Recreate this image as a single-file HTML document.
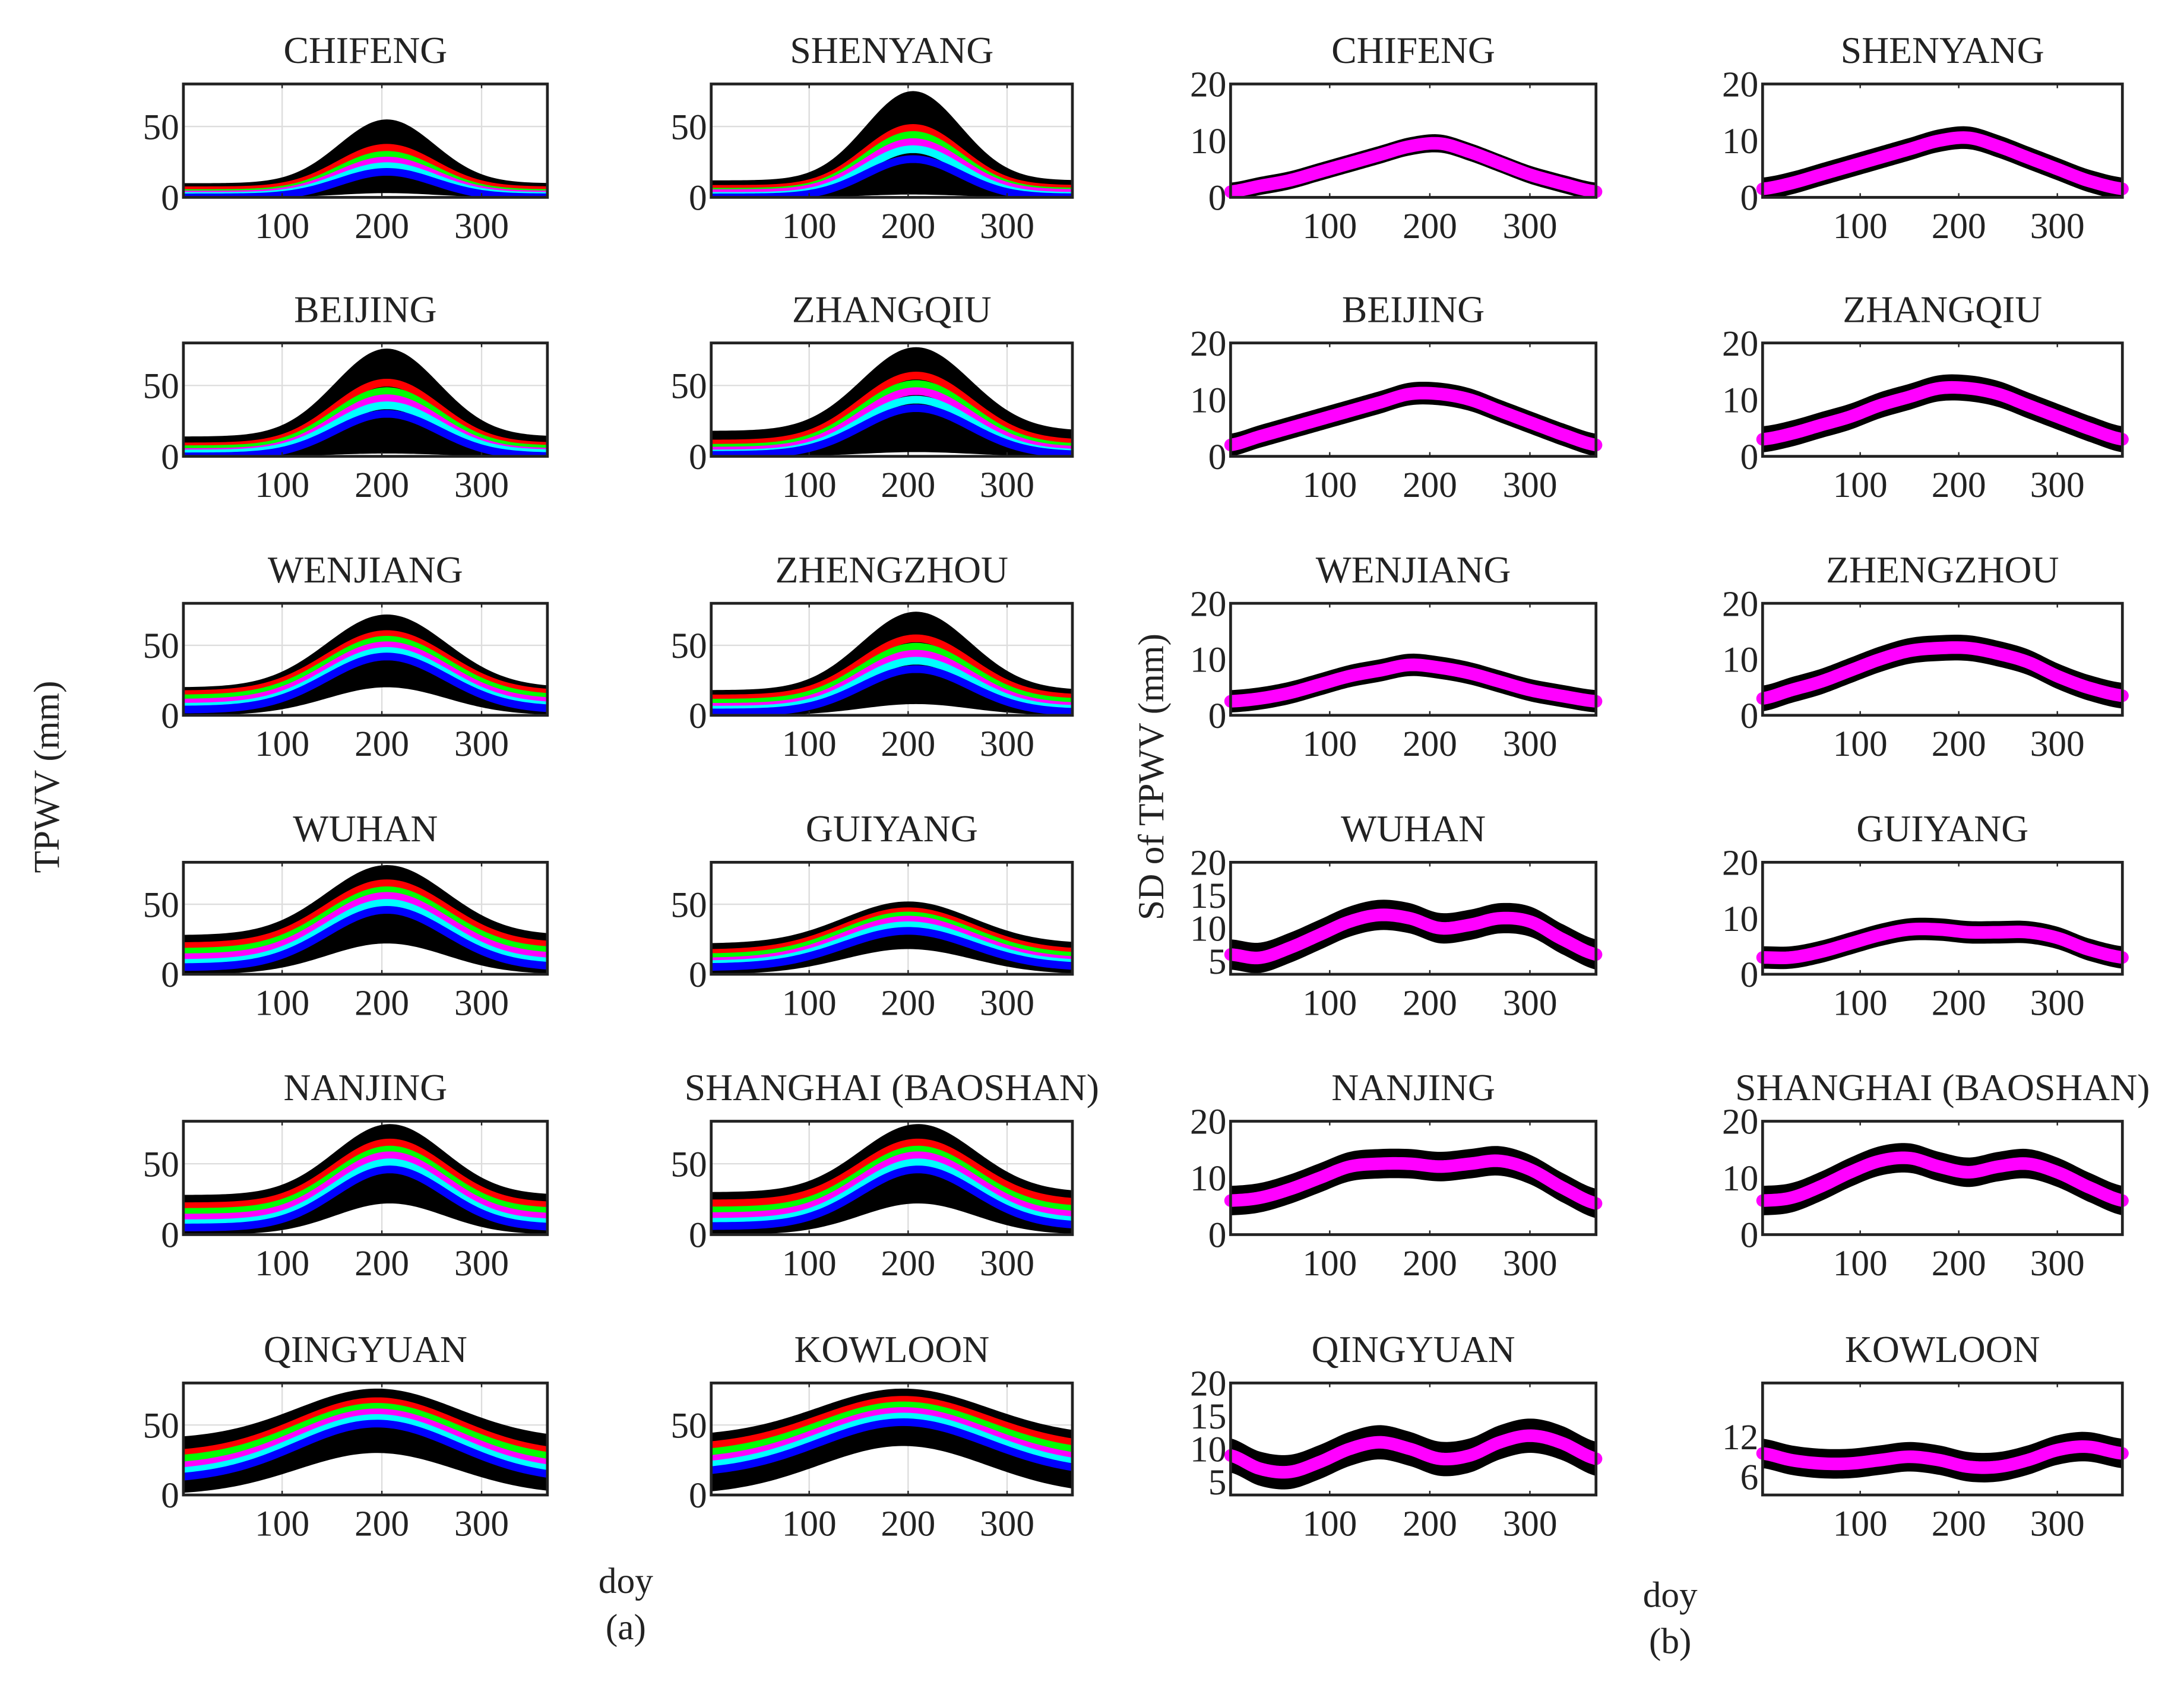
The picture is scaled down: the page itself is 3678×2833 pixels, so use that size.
<!DOCTYPE html>
<html><head><meta charset="utf-8">
<style>
html,body{margin:0;padding:0;background:#fff;}
svg{display:block;}
text{font-family:"Liberation Serif",serif;fill:#222;}
</style></head>
<body>
<svg id="fig" width="3678" height="2833" viewBox="0 0 1560 1201.6" xmlns="http://www.w3.org/2000/svg">
<rect x="0" y="0" width="1560" height="1202" fill="#fff"/>
<text x="0" y="0" font-size="26" text-anchor="middle" transform="translate(42,555) rotate(-90)">TPWV (mm)</text>
<text x="0" y="0" font-size="26" text-anchor="middle" transform="translate(831,555) rotate(-90)">SD of TPWV (mm)</text>
<text x="447" y="1138" font-size="26" text-anchor="middle">doy</text>
<text x="447" y="1171" font-size="26" text-anchor="middle">(a)</text>
<text x="1193" y="1148" font-size="26" text-anchor="middle">doy</text>
<text x="1193" y="1181" font-size="26" text-anchor="middle">(b)</text>
</svg>
<script>
// ---------- data ----------
const stations = ["CHIFENG","SHENYANG","BEIJING","ZHANGQIU","WENJIANG","ZHENGZHOU","WUHAN","GUIYANG","NANJING","SHANGHAI (BAOSHAN)","QINGYUAN","KOWLOON"];
const xTicks = [100,200,300];
// (a) percentile curves: red, green, magenta, cyan, blue — winter base and summer peak (mm)
const aPeakRed     = [35,49,52,57,58,55,65,45,65,65,67,68];
const aPeakGreen   = [30,44,46,51,54,49,60,42,60,60,63,64];
const aPeakMagenta = [26,39,41,46,50,44,56,39,56,56,59,60];
const aPeakCyan    = [22,34,36,40,46,39,51,35,51,51,55,56];
const aPeakBlue    = [18,27,30,34,42,33,46,31,46,46,51,52];
const aBaseRed     = [5,6,7,9,15,12,20,15,20,22,28,33];
const aBaseGreen   = [3,4,5,6,12,9,16,12,16,17,24,28];
const aBaseMagenta = [2,3,3,4,9,6,12,9,12,13,19,23];
const aBaseCyan    = [1,1,2,2,6,4,8,7,8,9,15,19];
const aBaseBlue    = [0,0,0,1,4,2,5,5,5,6,11,15];
const aPeakDoy     = [205,205,205,208,205,208,205,200,208,210,195,195];
const aWidthDays   = [48,48,52,55,60,55,60,65,55,58,80,85];
const aScatterTop  = [55,75,76,77,72,74,78,52,78,78,76,76];
const aScatterTopBase = [10,12,14,18,20,18,28,22,28,30,40,42];
const aScatterBot  = [3,2,2,3,20,8,22,18,22,22,30,35];
const aYTicks = [0,50];
// (b) SD curve values at knot days
const bKnots = [1,30,60,90,120,150,180,210,240,270,300,330,366];
const bCurve = [
 [1,2,3,4.5,6,7.5,9,9.5,8,6,4,2.5,1],
 [1.5,2.5,4,5.5,7,8.5,10,10.5,9,7,5,3,1.5],
 [2,3.5,5,6.5,8,9.5,11,11,10,8,6,4,2],
 [3,4,5.5,7,9,10.5,12,12,11,9,7,5,3],
 [2.5,3,4,5.5,7,8,9,8.5,7.5,6,4.5,3.5,2.5],
 [3,4.5,6,8,10,11.5,12,12,11,9.5,7,5,3.5],
 [6,5.5,7,9,11,12,11.5,10,10.5,11.5,11,8.5,6],
 [3,3,4,5.5,7,8,8,7.5,7.5,7.5,6.5,4.5,3],
 [6,6.5,8,10,12,12.5,12.5,12,12.5,13,11.5,8.5,5.5],
 [6,6.5,8.5,11,13,13.5,12,11,12,12.5,11,8.5,6],
 [9,7,6.5,8,10,11,10,8.5,9,11,12,11,8.5],
 [9.5,8.5,8,8,8.5,9,8.5,7.5,7.5,8.5,10,10.5,9.5]
];
const bSpread = [1.6,2,2,2.3,2,2.3,2.3,2,2.6,2.6,2.6,2.2];
const bYMin = [0,0,0,0,0,0,3,0,0,0,3,3.3];
const bYMax = [20,20,20,20,20,20,20,20,20,20,20,20];
const bYTicks = [[0,10,20],[0,10,20],[0,10,20],[0,10,20],[0,10,20],[0,10,20],[5,10,15,20],[0,10,20],[0,10,20],[0,10,20],[5,10,15,20],[6,12]];
// ---------- layout ----------
const colX = [[131,391],[508,766],[879,1140],[1259,1516]];
const rowY = [[60,141],[245,326],[431,511],[616,696],[801,882],[988,1068]];
const XMIN=1, XMAX=366;
const svg=document.getElementById('fig');
const NS="http://www.w3.org/2000/svg";
function mk(tag,attrs,parent){const e=document.createElementNS(NS,tag);for(const k in attrs)e.setAttribute(k,attrs[k]);(parent||svg).appendChild(e);return e;}
function catmull(knotsX,knotsY,d){
  let i=0;while(i<knotsX.length-2&&d>knotsX[i+1])i++;
  const p0=knotsY[Math.max(i-1,0)],p1=knotsY[i],p2=knotsY[i+1],p3=knotsY[Math.min(i+2,knotsY.length-1)];
  const t=(d-knotsX[i])/(knotsX[i+1]-knotsX[i]);
  return 0.5*((2*p1)+(-p0+p2)*t+(2*p0-5*p1+4*p2-p3)*t*t+(-p0+3*p1-3*p2+p3)*t*t*t);
}
const days=[];for(let d=1;d<=366;d+=3)days.push(d);days.push(366);

function panel(si,side){
  const col = side==='a' ? si%2 : 2+si%2;
  const row = Math.floor(si/2);
  const [x0,x1]=colX[col],[y0,y1]=rowY[row];
  const g=mk('g',{});
  
  
  const cid='c'+side+si;
  const cp=mk('clipPath',{id:cid},g);mk('rect',{x:x0,y:y0,width:x1-x0,height:y1-y0},cp);
  const ymin = side==='a'?0:bYMin[si], ymax = side==='a'?80:bYMax[si];
  const sx=d=>x0+(d-XMIN)/(XMAX-XMIN)*(x1-x0);
  const sy=v=>y1-(v-ymin)/(ymax-ymin)*(y1-y0);
  const t=mk('text',{x:(x0+x1)/2,y:y0-15,'font-size':27,'text-anchor':'middle'},g);
  t.textContent=stations[si];
  
  
  const inner=mk('g',{'clip-path':'url(#'+cid+')'},g);
  const yt = side==='a'?aYTicks:bYTicks[si];
  if(side==='a'){
    xTicks.forEach(v=>mk('line',{x1:sx(v),x2:sx(v),y1:y0,y2:y1,stroke:'#ddd','stroke-width':1},inner));
    yt.forEach(v=>mk('line',{x1:x0,x2:x1,y1:sy(v),y2:sy(v),stroke:'#ddd','stroke-width':1},inner));
    const sh=d=>Math.exp(-Math.pow(d-aPeakDoy[si],2)/(2*aWidthDays[si]*aWidthDays[si]));
    const lvl=(b,p,d)=>b+(p-b)*sh(d);
    let top=days.map(d=>sx(d)+','+sy(lvl(aScatterTopBase[si],aScatterTop[si],d))).join(' ');
    let bot=days.slice().reverse().map(d=>sx(d)+','+sy(Math.max(0,lvl(0,aScatterBot[si],d)))).join(' ');
    const sc=mk('polygon',{points:top+' '+bot,fill:'#000'},inner);
    
    
    const series=[[aBaseRed,aPeakRed,'#ff0000'],[aBaseGreen,aPeakGreen,'#00ff00'],[aBaseMagenta,aPeakMagenta,'#ff00ff'],[aBaseCyan,aPeakCyan,'#00ffff'],[aBaseBlue,aPeakBlue,'#0000ff']];
    series.forEach(([b,p,c])=>{
      const pl=mk('polyline',{points:days.map(d=>sx(d)+','+sy(lvl(b[si],p[si],d))).join(' '),fill:'none',stroke:c,'stroke-width':5.5},inner);
      
      
    });
  } else {
    const f=d=>catmull(bKnots,bCurve[si],d);
    const sp=bSpread[si];
    let top=days.map(d=>sx(d)+','+sy(f(d)+sp)).join(' ');
    let bot=days.slice().reverse().map(d=>sx(d)+','+sy(f(d)-sp)).join(' ');
    const sc=mk('polygon',{points:top+' '+bot,fill:'#000'},inner);
    
    
    const pl=mk('polyline',{points:days.map(d=>sx(d)+','+sy(f(d))).join(' '),fill:'none',stroke:'#ff00ff','stroke-width':9,'stroke-linecap':'round'},g);
    
    
  }
  mk('rect',{x:x0,y:y0,width:x1-x0,height:y1-y0,fill:'none',stroke:'#222','stroke-width':2},g);
  xTicks.forEach(v=>{
    mk('line',{x1:sx(v),x2:sx(v),y1:y1,y2:y1-3,stroke:'#222','stroke-width':1},g);
    mk('line',{x1:sx(v),x2:sx(v),y1:y0,y2:y0+3,stroke:'#222','stroke-width':1},g);
    const l=mk('text',{x:sx(v),y:y1+29,'font-size':26,'text-anchor':'middle'},g);l.textContent=v;
    
    
  });
  yt.forEach(v=>{
    const l=mk('text',{x:x0-3,y:sy(v)+9,'font-size':26,'text-anchor':'end'},g);l.textContent=v;
    
    
  });
}
for(let i=0;i<12;i++){panel(i,'a');panel(i,'b');}
</script>
</body></html>
